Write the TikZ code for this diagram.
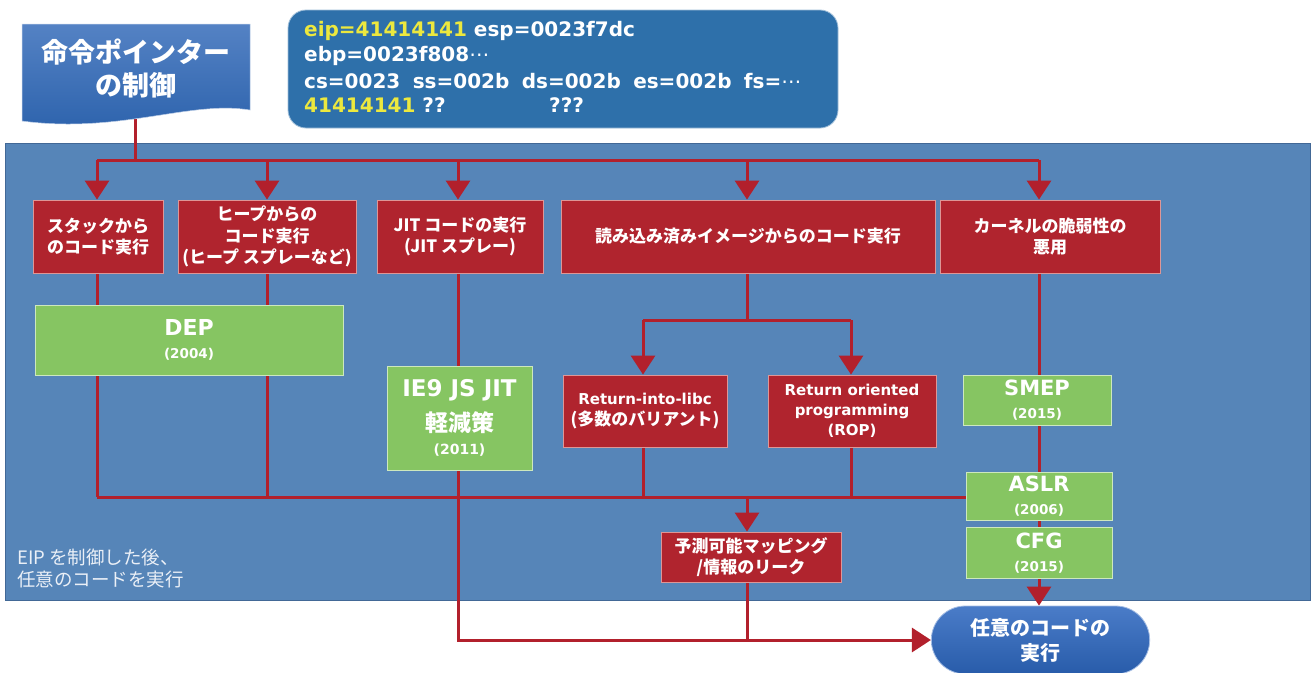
\documentclass[tikz,border=0pt]{standalone}
\usepackage{fontspec}
\setmainfont{Noto Sans CJK JP}
\newfontfamily\lat{DejaVu Sans}
\usetikzlibrary{arrows.meta,shapes.misc}
\pgfdeclarelayer{bg}
\pgfdeclarelayer{wires}
\pgfsetlayers{bg,wires,main}
\definecolor{panelc}{RGB}{86,133,184}
\definecolor{panelb}{RGB}{66,104,150}
\definecolor{redc}{RGB}{176,36,46}
\definecolor{redb}{RGB}{222,150,150}
\definecolor{greenc}{RGB}{134,197,98}
\definecolor{greenb}{RGB}{205,232,190}
\definecolor{regc}{RGB}{46,112,170}
\definecolor{yelc}{RGB}{236,232,62}
\definecolor{wirec}{RGB}{178,32,44}
\definecolor{bantop}{RGB}{84,130,196}
\definecolor{banbot}{RGB}{44,98,172}
\definecolor{goaltop}{RGB}{74,124,200}
\definecolor{goalbot}{RGB}{40,92,170}
\newcommand\fs[2]{\fontsize{#1}{#2}\selectfont}
\newcommand\gapp{\hspace{0.62em}}
\newcommand\mdots{{\lat\mdseries ⋯}}
\tikzset{
  wire/.style={draw=wirec, line width=3pt},
  arr/.style={wire, -{Triangle[width=24pt,length=19pt]}},
  rbox/.style={fill=redc, draw=redb, line width=0.8pt, text=white, align=center, inner sep=0pt, font=\bfseries\fs{17}{21.5}},
  gbox/.style={fill=greenc, draw=greenb, line width=0.8pt, text=white, align=center, inner sep=0pt, font=\lat\bfseries\fs{13.5}{23}},
  regtext/.style={anchor=west, inner sep=0pt, text=white, font=\lat\bfseries\fs{20}{24}},
}
\begin{document}
\begin{tikzpicture}[x=1pt,y=-1pt]
\path[use as bounding box] (0,0) rectangle (1314,672);
\begin{pgfonlayer}{bg}
\fill[white] (0,0) rectangle (1314,672);
\fill[panelc, draw=panelb, line width=1pt] (5,143) rectangle (1310,600);
\end{pgfonlayer}
% banner
\shade[top color=bantop, bottom color=banbot, draw=white!60!bantop, line width=0.5pt]
  (22,24) -- (250,24) -- (250,110) .. controls (190,100) and (120,134) .. (22,121) -- cycle;
\node[font=\bfseries\fs{27}{33}, text=white, align=center] (ban) at (136,68) {命令ポインター\\の制御};
\coordinate (banb) at (135,119);
% register box
\node[draw=white!55!regc, line width=0.8pt, fill=regc, rounded corners=18pt, minimum width=550pt, minimum height=118pt] (regbox) at (563,69) {};
\node[regtext] (r1) at (304,31) {\textcolor{yelc}{eip=41414141} esp=0023f7dc};
\node[regtext] (r2) at (304,56) {ebp=0023f808\mdots};
\node[regtext] (r3) at (304,81) {cs=0023\gapp ss=002b\gapp ds=002b\gapp es=002b\gapp fs=\mdots};
\node[regtext] (r4) at (304,105) {\textcolor{yelc}{41414141} ??};
\node[regtext] (r5) at (549,105) {???};
% red boxes, top row
\node[rbox, minimum width=130pt, minimum height=73pt] (b1) at (98,236.5) {スタックから\\のコード実行};
\node[rbox, minimum width=178pt, minimum height=73pt] (b2) at (267,236.5) {ヒープからの\\コード実行\\(ヒープ スプレーなど)};
\node[rbox, minimum width=166pt, minimum height=73pt] (b3) at (460,236.5) {JIT コードの実行\\(JIT スプレー)};
\node[rbox, minimum width=374pt, minimum height=73pt] (b4) at (748,236.5) {読み込み済みイメージからのコード実行};
\node[rbox, minimum width=220pt, minimum height=73pt] (b5) at (1050,236.5) {カーネルの脆弱性の\\悪用};
% green boxes
\node[gbox, minimum width=308pt, minimum height=70pt] (dep) at (189,340) {{\fs{22}{24}DEP}\\(2004)};
\node[gbox, minimum width=145pt, minimum height=104pt] (ie9) at (459.5,418) {{\fs{23}{26}IE9 JS JIT}\\[9pt]{\rmfamily\fs{23}{31}軽減策}\\{\fs{14}{22}(2011)}};
\node[gbox, minimum width=148pt, minimum height=50pt] (smep) at (1037,400) {{\fs{21}{22}SMEP}\\(2015)};
\node[gbox, minimum width=146pt, minimum height=48pt] (aslr) at (1039,496) {{\fs{21}{22}ASLR}\\(2006)};
\node[gbox, minimum width=146pt, minimum height=51pt] (cfg) at (1039,553) {{\fs{21}{22}CFG}\\(2015)};
% red boxes, lower
\node[rbox, minimum width=164pt, minimum height=72pt] (ril) at (645,411) {{\lat\bfseries\fs{15}{20}Return-into-libc}\\(多数のバリアント)};
\node[rbox, minimum width=168pt, minimum height=72pt, font=\lat\bfseries\fs{15}{20}] (rop) at (852,411) {Return oriented\\programming\\(ROP)};
\node[rbox, minimum width=180pt, minimum height=50pt] (pred) at (751,557) {予測可能マッピング\\/情報のリーク};
% goal
\node[rounded rectangle, minimum width=225pt, minimum height=68pt, top color=goaltop, bottom color=goalbot, draw=white!50!goaltop, line width=0.8pt, text=white, font=\bfseries\fs{20}{25}, align=center] (goal) at (1040.5,640) {任意のコードの\\実行};
% note
\node[anchor=west, inner sep=0pt, text=white!88!panelc, font=\fs{18.5}{22}, align=left] (note) at (17,568) {EIP を制御した後、\\任意のコードを実行};
% wires
\coordinate (t1) at (97,160);
\coordinate (t2) at (267,160);
\coordinate (t3) at (458,160);
\coordinate (t4) at (747,160);
\coordinate (t5) at (1039,160);
\coordinate (lo) at (97,497);
\coordinate (s1) at (643,320);
\coordinate (s2) at (851,320);
\begin{pgfonlayer}{wires}
\draw[wire] (banb) -- (banb |- t1);
\draw[wire] (t1) -- (t5);
\draw[arr] (t1) -- (t1 |- b1.north);
\draw[arr] (t2) -- (t2 |- b2.north);
\draw[arr] (t3) -- (t3 |- b3.north);
\draw[arr] (t4) -- (t4 |- b4.north);
\draw[arr] (t5) -- (t5 |- b5.north);
\draw[wire] (t1 |- b1.south) -- (lo);
\draw[wire] (t2 |- b2.south) -- (t2 |- lo);
\draw[wire] (lo) -- (lo -| aslr.west);
\draw[wire] (t4 |- b4.south) -- (t4 |- s1);
\draw[wire] (s1) -- (s2);
\draw[arr] (s1) -- (s1 |- ril.north);
\draw[arr] (s2) -- (s2 |- rop.north);
\draw[wire] (s1 |- ril.south) -- (s1 |- lo);
\draw[wire] (s2 |- rop.south) -- (s2 |- lo);
\draw[arr] (t4 |- lo) -- (t4 |- pred.north);
\draw[wire] (t4 |- pred.south) -- (t4 |- goal.west);
\draw[arr] (t3 |- b3.south) -- (t3 |- goal.west) -- (goal.west);
\draw[arr] (t5 |- b5.south) -- (t5 |- goal.north);
\end{pgfonlayer}
\end{tikzpicture}
\end{document}
